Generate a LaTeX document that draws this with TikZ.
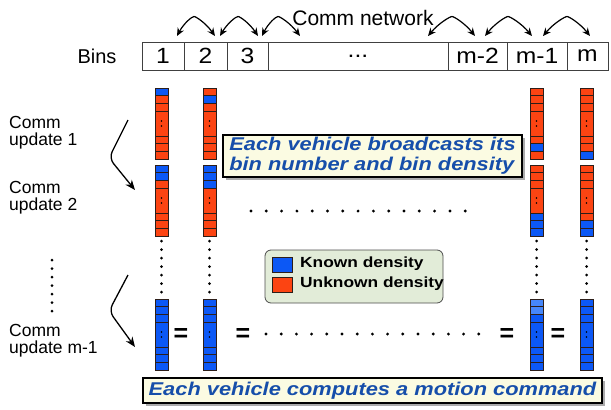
\documentclass[tikz,border=0pt]{standalone}
\usepackage{fontspec}
\setmainfont{Liberation Sans}
\newfontfamily\widefont[FakeStretch=1.18]{Liberation Sans}
\newfontfamily\binfont[FakeStretch=1.12]{Liberation Sans}
\usetikzlibrary{arrows.meta,shadows,calc}
\definecolor{kb}{RGB}{12,88,245}
\definecolor{kl}{RGB}{70,135,250}
\definecolor{ur}{RGB}{252,68,18}
\definecolor{celledge}{RGB}{45,30,25}
\definecolor{calltext}{RGB}{22,78,170}
\definecolor{callfill}{RGB}{251,251,226}
\definecolor{legfill}{RGB}{226,236,216}
\newcommand\drawcol[3]{%
  \foreach \c [count=\i] in {#3}{%
    \pgfmathsetmacro\ya{{0,7.67,15.33,23,48,55.67,63.33}[\i-1]}%
    \pgfmathsetmacro\yb{{7.67,15.33,23,48,55.67,63.33,71}[\i-1]}%
    \fill[\c, draw=celledge, line width=0.9pt] (#1-6.5,#2+\ya) rectangle (#1+6.5,#2+\yb);
  }%
  \draw[celledge, line width=1pt] (#1-6.5,#2) rectangle (#1+6.5,#2+71);
  \fill[black] (#1,#2+33) circle (0.9) (#1,#2+38) circle (0.9);
}
\begin{document}
\begin{tikzpicture}[x=1pt,y=-1pt,
  bin/.style={draw=black!75, line width=0.8pt, rectangle, inner sep=0pt, minimum height=28pt, font=\binfont\fontsize{22}{22}\selectfont},
  lab/.style={align=left, inner sep=0pt, font=\fontsize{17.5}{17}\selectfont},
  callout/.style={draw=black, line width=1.2pt, fill=callfill, inner sep=0pt,
    drop shadow={shadow xshift=3pt, shadow yshift=-3pt, fill=black!60, opacity=0.55},
    text=calltext, align=left, font=\widefont\bfseries\itshape\fontsize{18.5}{20}\selectfont},
  eqsign/.style={inner sep=0pt, font=\bfseries\fontsize{25}{25}\selectfont},
  tip/.style={-{Stealth[length=10pt,width=8pt]}, line width=1.3pt},
  dtip/.style={{Stealth[length=8pt,width=7pt]}-{Stealth[length=8pt,width=7pt]}, line width=1.2pt},
  dot/.style={fill=black}
]
\useasboundingbox (0,0) rectangle (611,410);

% ---- comm network header
\node[anchor=base, inner sep=0pt, font=\fontsize{21}{21}\selectfont] (net) at (363,25) {Comm network};
\node[anchor=base, inner sep=0pt, font=\fontsize{20}{20}\selectfont] (binslab) at (97,63) {Bins};

% ---- bins
\node[bin, minimum width=42pt] (b1) at (163,56) {1};
\node[bin, minimum width=43pt] (b2) at (205.5,56) {2};
\node[bin, minimum width=41pt] (b3) at (247.5,56) {3};
\node[bin, minimum width=180pt] (bd) at (358,56) {...};
\node[bin, minimum width=59pt] (bm2) at (477.5,56) {m-2};
\node[bin, minimum width=60pt] (bm1) at (537,56) {m-1};
\node[bin, minimum width=41pt] (bm) at (587.5,56) {m};

% ---- arches (double headed)
\foreach \l/\p/\r [count=\k] in {177/194/215, 220/238/258, 262/278/300, 428/452/475, 485/508/532, 543/567/590}{
  \coordinate (al\k) at (\l,36);
  \coordinate (ap\k) at (\p,16.5);
  \coordinate (ar\k) at (\r,36);
  \draw[dtip, line join=round] (al\k) .. controls ($(al\k)!0.55!(ap\k)+(-2.5,-2)$) and ($(ap\k)+(-2,0)$) .. (ap\k)
     .. controls ($(ap\k)+(2,0)$) and ($(ap\k)!0.45!(ar\k)+(2.5,-2)$) .. (ar\k);
}

% ---- left labels
\node[lab, anchor=west] (cu1) at (9,133) {Comm\\update 1};
\node[lab, anchor=west] (cu2) at (9,198) {Comm\\update 2};
\node[lab, anchor=west] (cu3) at (9,341) {Comm\\update m-1};
\foreach \y in {260,268.5,...,312}{\fill[dot] (52,\y) circle (1.5);}

% ---- left curved arrows
\coordinate (s1) at (128,120); \coordinate (c1) at (109,158); \coordinate (e1) at (135,190);
\coordinate (s2) at (128,275); \coordinate (c2) at (109,311); \coordinate (e2) at (135,347);
\draw[tip, rounded corners=7pt] (s1) -- (c1) -- (e1);
\draw[tip, rounded corners=7pt] (s2) -- (c2) -- (e2);

% ---- columns group 1
\drawcol{161.5}{88}{kb,ur,ur,ur,ur,ur,ur}
\drawcol{209.5}{88}{ur,kb,ur,ur,ur,ur,ur}
\drawcol{536.5}{88}{ur,ur,ur,ur,ur,kb,ur}
\drawcol{586.5}{88}{ur,ur,ur,ur,ur,ur,kb}
% ---- columns group 2
\drawcol{161.5}{165}{kb,kb,ur,ur,ur,ur,ur}
\drawcol{209.5}{165}{kb,kb,kb,ur,ur,ur,ur}
\drawcol{536.5}{165}{ur,ur,ur,ur,kb,kb,kb}
\drawcol{586.5}{165}{ur,ur,ur,ur,ur,kb,kb}
% ---- columns group 3
\drawcol{161.5}{299}{kb,kb,kb,kb,kb,kb,kb}
\drawcol{209.5}{299}{kb,kb,kb,kb,kb,kb,kb}
\drawcol{536.5}{299}{kl,kl,kb,kb,kb,kb,kb}
\drawcol{586.5}{299}{kb,kb,kb,kb,kb,kb,kb}

% ---- vertical dotted lines
\foreach \x in {161.5,209.5,536.5,586.5}{
  \foreach \y in {241,249.5,...,293}{\fill[dot] (\x,\y) circle (1.5);}
}
% ---- horizontal dotted lines
\foreach \i in {0,...,14}{
  \fill[dot] (251+15.3*\i,211) circle (1.6);
  \fill[dot] (266+15.2*\i,334) circle (1.6);
}

% ---- equal signs
\node[eqsign] (eq1) at (181,335) {=};
\node[eqsign] (eq2) at (243,335) {=};
\node[eqsign] (eq3) at (507,335) {=};
\node[eqsign] (eq4) at (558,335) {=};

% ---- callouts
\node[callout, minimum width=299pt, minimum height=42pt] (call1) at (372.5,156)
  {Each vehicle broadcasts its\\bin number and bin density};
\node[callout, minimum width=459pt, minimum height=25pt] (call2) at (372.5,390.5)
  {Each vehicle computes a motion command};

% ---- legend
\node[draw=black!70, line width=0.8pt, fill=legfill, rounded corners=6pt, minimum width=178pt, minimum height=53pt, inner sep=0pt] (legend) at (354,276.5) {};
\node[draw=celledge, line width=0.8pt, fill=kb, minimum width=20pt, minimum height=15pt, inner sep=0pt] (lk) at (282,264.5) {};
\node[draw=celledge, line width=0.8pt, fill=ur, minimum width=20pt, minimum height=15pt, inner sep=0pt] (lu) at (282,284.5) {};
\node[anchor=west, inner sep=0pt, font=\widefont\bfseries\fontsize{14.7}{15}\selectfont] (lkt) at (300,264) {Known density};
\node[anchor=west, inner sep=0pt, font=\widefont\bfseries\fontsize{14.7}{15}\selectfont] (lut) at (300,284) {Unknown density};
\end{tikzpicture}
\end{document}
